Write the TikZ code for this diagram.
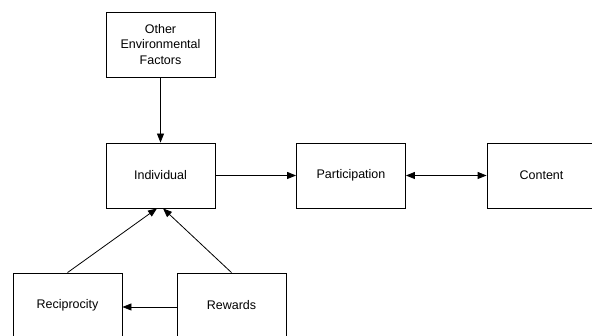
\documentclass[tikz,border=0pt]{standalone}
\usepackage{fontspec}
\setmainfont{Liberation Sans}
\usetikzlibrary{arrows.meta}
\begin{document}
\begin{tikzpicture}[x=1pt, y=1pt, font=\fontsize{12.5}{15.5}\selectfont,
  box/.style={draw, line width=0.8pt, minimum width=109pt, minimum height=65pt, align=center, inner sep=2pt},
  link/.style={line width=0.8pt, -{Triangle[length=9pt, width=7pt]}}]
  \useasboundingbox (0,0) rectangle (592,336);
  \clip (0,0) rectangle (592,336);
  \node[box] (env) at (160.5,291.5) {Other\\Environmental\\Factors};
  \node[box] (ind) at (160.5,160.5) {Individual};
  \node[box] (part) at (351,160.5) {Participation};
  \node[box] (cont) at (541.5,160.5) {Content};
  \node[box] (recip) at (67.5,30.5) {Reciprocity};
  \node[box] (rew) at (231.5,30.5) {Rewards};
  \draw[link] (env) -- (ind);
  \draw[link] (ind) -- (part);
  \draw[link, {Triangle[length=9pt, width=7pt]}-{Triangle[length=9pt, width=7pt]}] (part) -- (cont);
  \draw[link] (recip.north) -- ([xshift=-3.5pt]ind.south);
  \draw[link] (rew.north) -- ([xshift=2.5pt]ind.south);
  \draw[link] (rew.west |- 0,29) -- (recip.east |- 0,29);
\end{tikzpicture}
\end{document}
